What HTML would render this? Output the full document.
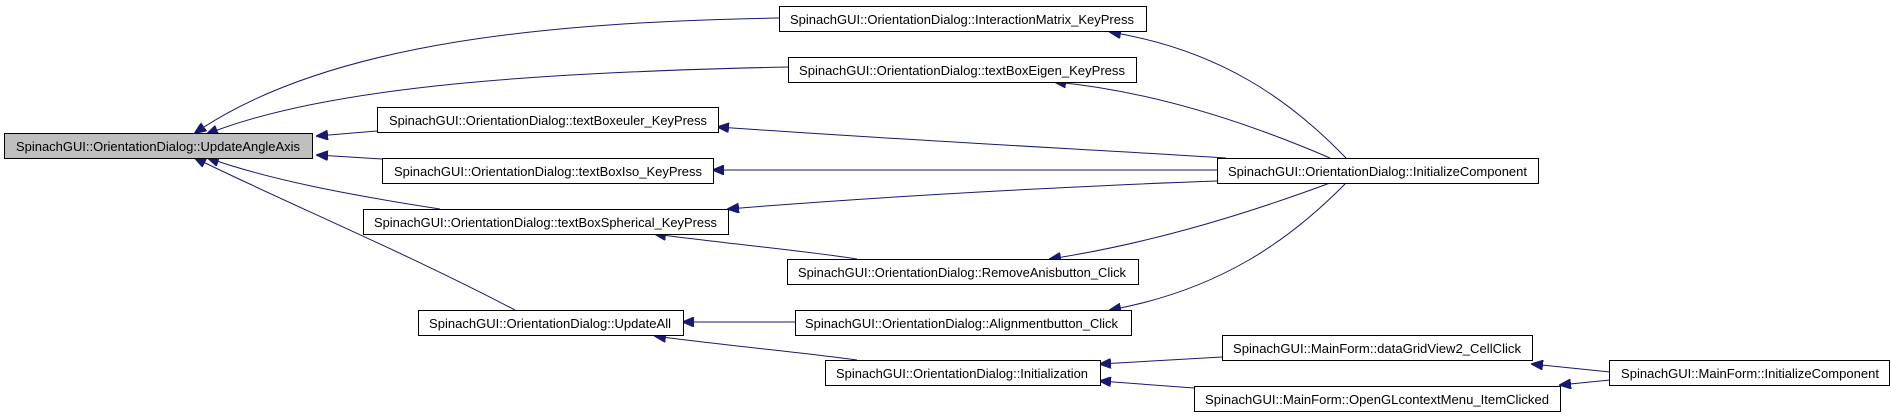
<!DOCTYPE html>
<html><head><meta charset="utf-8"><style>
html,body{margin:0;padding:0;background:#fff;}
svg{display:block;}
text{font-family:"Liberation Sans",sans-serif;font-size:13px;fill:#000;}
</style></head><body>
<svg width="1891" height="417" viewBox="0 0 1891 417" xmlns="http://www.w3.org/2000/svg">
<defs>
<marker id="a" markerWidth="12" markerHeight="10" refX="11" refY="5" orient="auto" markerUnits="userSpaceOnUse">
<path d="M0,0 L12,5 L0,10 Z" fill="#191970" stroke="#191970"/>
</marker>
</defs>
<g fill="none" stroke="#191970" stroke-width="1" marker-end="url(#a)">
<path d="M779,18 C560,22 330,40 195,133"/>
<path d="M788,67 C550,72 330,85 207,134"/>
<path d="M377,131 L317,136"/>
<path d="M382,159 L317,155"/>
<path d="M440,209 C350,195 270,180 208,158"/>
<path d="M515,310 C400,250 280,200 195,158"/>
<path d="M1346,158 C1290,100 1220,50 1110,32"/>
<path d="M1330,158 C1230,115 1140,90 1055,82"/>
<path d="M1226,158 C1100,150 900,140 718,127"/>
<path d="M1217,170 L713,170"/>
<path d="M1217,181 C1100,185 900,195 728,209"/>
<path d="M1330,183 C1230,220 1140,245 1050,259"/>
<path d="M1346,183 C1290,240 1220,290 1110,310"/>
<path d="M857,259 C800,250 720,243 655,234"/>
<path d="M795,322 L683,322"/>
<path d="M857,360 C800,352 720,345 655,336"/>
<path d="M1222,357 L1100,364"/>
<path d="M1194,388 L1100,381"/>
<path d="M1610,372 L1532,364"/>
<path d="M1610,380 L1560,385"/>
</g>
<g stroke="#000" stroke-width="1">
<rect x="4.5" y="133.5" width="308" height="25" fill="#bfbfbf"/>
<rect x="779.5" y="6.5" width="367" height="25" fill="#fff"/>
<rect x="788.5" y="57.5" width="348" height="25" fill="#fff"/>
<rect x="377.5" y="107.5" width="341" height="25" fill="#fff"/>
<rect x="382.5" y="158.5" width="331" height="25" fill="#fff"/>
<rect x="363.5" y="209.5" width="365" height="25" fill="#fff"/>
<rect x="787.5" y="259.5" width="351" height="25" fill="#fff"/>
<rect x="418.5" y="310.5" width="265" height="25" fill="#fff"/>
<rect x="795.5" y="310.5" width="336" height="25" fill="#fff"/>
<rect x="825.5" y="360.5" width="275" height="25" fill="#fff"/>
<rect x="1217.5" y="158.5" width="321" height="25" fill="#fff"/>
<rect x="1222.5" y="335.5" width="310" height="25" fill="#fff"/>
<rect x="1194.5" y="386.5" width="366" height="25" fill="#fff"/>
<rect x="1609.5" y="360.5" width="280" height="25" fill="#fff"/>
</g>
<g lengthAdjust="spacingAndGlyphs">
<text x="16" y="151" textLength="284" lengthAdjust="spacingAndGlyphs">SpinachGUI::OrientationDialog::UpdateAngleAxis</text>
<text x="790" y="24" textLength="344" lengthAdjust="spacingAndGlyphs">SpinachGUI::OrientationDialog::InteractionMatrix_KeyPress</text>
<text x="799" y="75" textLength="326" lengthAdjust="spacingAndGlyphs">SpinachGUI::OrientationDialog::textBoxEigen_KeyPress</text>
<text x="389" y="125" textLength="318" lengthAdjust="spacingAndGlyphs">SpinachGUI::OrientationDialog::textBoxeuler_KeyPress</text>
<text x="394" y="176" textLength="308" lengthAdjust="spacingAndGlyphs">SpinachGUI::OrientationDialog::textBoxIso_KeyPress</text>
<text x="374" y="227" textLength="343" lengthAdjust="spacingAndGlyphs">SpinachGUI::OrientationDialog::textBoxSpherical_KeyPress</text>
<text x="798" y="277" textLength="328" lengthAdjust="spacingAndGlyphs">SpinachGUI::OrientationDialog::RemoveAnisbutton_Click</text>
<text x="429" y="328" textLength="242" lengthAdjust="spacingAndGlyphs">SpinachGUI::OrientationDialog::UpdateAll</text>
<text x="805" y="328" textLength="313" lengthAdjust="spacingAndGlyphs">SpinachGUI::OrientationDialog::Alignmentbutton_Click</text>
<text x="836" y="378" textLength="252" lengthAdjust="spacingAndGlyphs">SpinachGUI::OrientationDialog::Initialization</text>
<text x="1228" y="176" textLength="299" lengthAdjust="spacingAndGlyphs">SpinachGUI::OrientationDialog::InitializeComponent</text>
<text x="1233" y="353" textLength="288" lengthAdjust="spacingAndGlyphs">SpinachGUI::MainForm::dataGridView2_CellClick</text>
<text x="1205" y="404" textLength="344" lengthAdjust="spacingAndGlyphs">SpinachGUI::MainForm::OpenGLcontextMenu_ItemClicked</text>
<text x="1621" y="378" textLength="258" lengthAdjust="spacingAndGlyphs">SpinachGUI::MainForm::InitializeComponent</text>
</g>
</svg>
</body></html>
